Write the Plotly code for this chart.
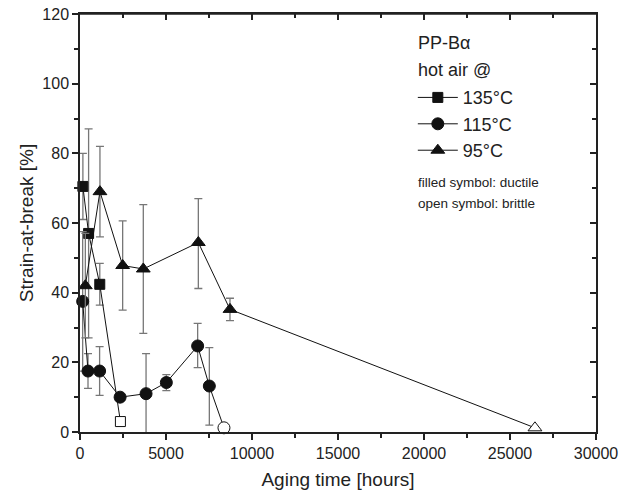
import plotly.graph_objects as go

# ---- data ----
t135 = [168, 500, 1150, 2350]
v135 = [70.5, 57, 42.4, 3]
e135_up = [9.5, 30, 6, 0]
e135_dn = [9.5, 30, 6, 0]
open135 = [False, False, False, True]

t115 = [155, 465, 1140, 2330, 3840, 5020, 6840, 7520, 8370]
v115 = [37.5, 17.5, 17.5, 10, 11, 14.2, 24.7, 13.2, 1.2]
e115_up = [20, 5, 7, 0, 11.5, 2.3, 6.5, 11, 0]
e115_dn = [20, 5, 7, 0, 11.3, 2.3, 6.2, 11.2, 0]
open115 = [False] * 8 + [True]

t95 = [310, 1160, 2480, 3680, 6880, 8720, 26450]
v95 = [42, 69, 47.8, 46.8, 54.4, 35.2, 1.2]
e95_up = [15, 13, 12.8, 18.5, 12.6, 3.2, 0]
e95_dn = [15, 13, 12.8, 18.5, 13.2, 3.2, 0]
open95 = [False] * 6 + [True]

x_ticks = [0, 5000, 10000, 15000, 20000, 25000, 30000]
x_ticklabels = ["0", "5000", "10000", "15000", "20000", "25000", "30000"]
y_ticks = [0, 20, 40, 60, 80, 100, 120]

names = ["135°C", "115°C", "95°C"]
symbols = ["square", "circle", "triangle-up"]
sizes = [10, 12, 12]

fig = go.Figure()

series = [
    (t135, v135, e135_up, e135_dn, open135),
    (t115, v115, e115_up, e115_dn, open115),
    (t95, v95, e95_up, e95_dn, open95),
]

for (t, v, eu, ed, op), nm, sym, sz in zip(series, names, symbols, sizes):
    fig.add_trace(go.Scatter(
        x=t, y=v, name=nm, mode="lines+markers",
        line=dict(color="#111", width=1),
        marker=dict(symbol=sym, size=sz,
                    color=["white" if o else "#111" for o in op],
                    line=dict(color="#111", width=1)),
        error_y=dict(type="data", symmetric=False, array=eu, arrayminus=ed,
                     color="#777", thickness=1.3, width=4),
        cliponaxis=False,
    ))

FONT = "Liberation Sans, Arial"
axis_common = dict(showgrid=False, zeroline=False, showline=True, mirror=True, linecolor="#222",
                   linewidth=1.5, ticks="outside", tickcolor="#222", tickwidth=1.5,
                   ticklen=6, automargin=False,
                   tickfont=dict(family=FONT, size=16, color="#222"))
minor_out = dict(ticks="outside", ticklen=4, tickcolor="#222", tickwidth=1.5)
minor_in = dict(ticks="inside", ticklen=4, tickcolor="#222", tickwidth=1.5)
mirror_common = dict(showgrid=False, zeroline=False, showline=True, linecolor="#222",
                     linewidth=1.5, ticks="inside", ticklen=6, tickwidth=1.5,
                     tickcolor="#222", showticklabels=False, automargin=False)

fig.update_layout(
    width=621, height=495,
    margin=dict(l=80, r=25, t=14, b=63),
    plot_bgcolor="white", paper_bgcolor="white",
    font=dict(family=FONT, color="#222"),
    xaxis=dict(range=[0, 30000], tickvals=x_ticks, ticktext=x_ticklabels,
               minor=dict(tickvals=[2500, 7500, 12500, 17500, 22500, 27500], **minor_out),
               title=dict(text="Aging time [hours]", font=dict(size=19), standoff=12),
               **axis_common),
    yaxis=dict(range=[0, 120], tickvals=y_ticks,
               minor=dict(tickvals=[10, 30, 50, 70, 90, 110], **minor_out),
               title=dict(text="Strain-at-break [%]", font=dict(size=19), standoff=4),
               **axis_common),
    xaxis2=dict(overlaying="x", side="top", range=[0, 30000], tickvals=x_ticks,
                minor=dict(tickvals=[2500, 7500, 12500, 17500, 22500, 27500], **minor_in),
                **mirror_common),
    yaxis2=dict(overlaying="y", side="right", range=[0, 120], tickvals=y_ticks,
                minor=dict(tickvals=[10, 30, 50, 70, 90, 110], **minor_in),
                **mirror_common),
    legend=dict(x=0.645, y=0.844, xanchor="left", yanchor="top", bgcolor="rgba(0,0,0,0)",
                font=dict(size=18, color="#222"), tracegroupgap=0, itemwidth=40),
    showlegend=True,
)

# dummy trace to activate the top / right axes
fig.add_trace(go.Scatter(x=[None], y=[None], xaxis="x2", yaxis="y2", showlegend=False))

# explicit frame line along the top edge of the plot area
fig.add_shape(type="line", xref="paper", yref="paper", x0=0, x1=1, y0=1, y1=1,
              line=dict(color="#222", width=1.5), layer="above")

fig.add_annotation(xref="paper", yref="paper", x=0.651, y=0.930, xanchor="left", yanchor="middle",
                   text="PP-Bα", showarrow=False, font=dict(size=18, color="#222"))
fig.add_annotation(xref="paper", yref="paper", x=0.651, y=0.866, xanchor="left", yanchor="middle",
                   text="hot air @", showarrow=False, font=dict(size=18, color="#222"))
fig.add_annotation(xref="paper", yref="paper", x=0.651, y=0.597, xanchor="left", yanchor="middle",
                   text="filled symbol: ductile", showarrow=False, font=dict(size=13.5, color="#222"))
fig.add_annotation(xref="paper", yref="paper", x=0.651, y=0.547, xanchor="left", yanchor="middle",
                   text="open symbol: brittle", showarrow=False, font=dict(size=13.5, color="#222"))

fig.write_html("out.html", config={"displayModeBar": False},
               post_script="document.body.style.margin='0';document.body.style.overflow='hidden';")
